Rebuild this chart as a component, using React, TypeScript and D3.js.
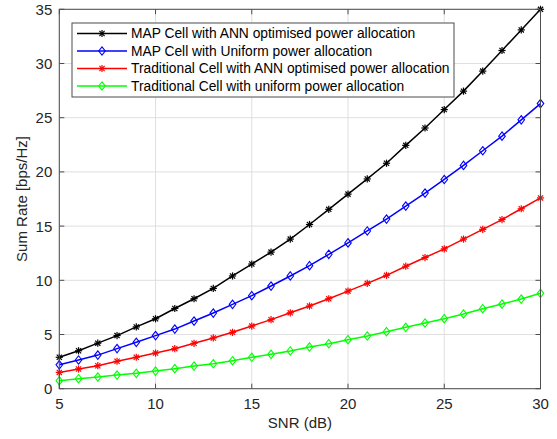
import React from "react";
import * as d3 from "d3";

const snr = [5,6,7,8,9,10,11,12,13,14,15,16,17,18,19,20,21,22,23,24,25,26,27,28,29,30];
const mapAnn = [2.9,3.5,4.2,4.9,5.7,6.45,7.4,8.3,9.25,10.4,11.5,12.6,13.8,15.15,16.55,17.95,19.35,20.8,22.45,24.05,25.75,27.45,29.3,31.2,33.1,35.0];
const mapUni = [2.2,2.65,3.1,3.7,4.28,4.9,5.5,6.24,6.98,7.78,8.58,9.47,10.4,11.35,12.4,13.45,14.55,15.65,16.85,18.05,19.3,20.6,21.95,23.3,24.8,26.3];
const tradAnn = [1.5,1.82,2.12,2.53,2.9,3.29,3.69,4.19,4.68,5.2,5.78,6.37,7.0,7.63,8.3,9.0,9.72,10.46,11.3,12.1,12.9,13.8,14.7,15.6,16.6,17.6];
const tradUni = [0.74,0.92,1.08,1.26,1.42,1.63,1.85,2.09,2.3,2.58,2.9,3.17,3.48,3.85,4.15,4.52,4.86,5.26,5.66,6.06,6.46,6.89,7.38,7.81,8.27,8.8];

const seriesNames = [
  "MAP Cell with ANN optimised power allocation",
  "MAP Cell with Uniform power allocation",
  "Traditional Cell with ANN optimised power allocation",
  "Traditional Cell with uniform power allocation",
];
const seriesColors = ["#000000", "#0000ff", "#ff0000", "#00ff00"];
const seriesMarkers = ["star", "diamond", "star", "diamond"];
const seriesValues = [mapAnn, mapUni, tradAnn, tradUni];

const xTicks = [5, 10, 15, 20, 25, 30];
const yTicks = [0, 5, 10, 15, 20, 25, 30, 35];

const W = 557, H = 439;
const L = 59.3, R = 540.5, T = 9.3, B = 388.7;

function Marker({ type, x, y, color }: { type: string; x: number; y: number; color: string }) {
  if (type === "star") {
    const r = 3.6;
    const d = r * 0.72;
    return (
      <g stroke={color} strokeWidth={1.2} fill="none">
        <line x1={x - r} y1={y} x2={x + r} y2={y} />
        <line x1={x} y1={y - r} x2={x} y2={y + r} />
        <line x1={x - d} y1={y - d} x2={x + d} y2={y + d} />
        <line x1={x - d} y1={y + d} x2={x + d} y2={y - d} />
      </g>
    );
  }
  const r = 4.2;
  return (
    <path
      d={`M${x},${y - r}L${x + r * 0.78},${y}L${x},${y + r}L${x - r * 0.78},${y}Z`}
      stroke={color}
      strokeWidth={1.1}
      fill="none"
    />
  );
}

export default function App() {
  const x = d3.scaleLinear().domain([5, 30]).range([L, R]);
  const y = d3.scaleLinear().domain([0, 35]).range([B, T]);
  const line = d3
    .line<number>()
    .x((_, i) => x(snr[i]))
    .y((v) => y(v));
  const axisColor = "#262626";
  const boxColor = "#4d4d4d";
  const font = "'Liberation Sans', Arial, sans-serif";

  const legX = 72, legY = 23, legW = 382, legH = 74;
  const rowYs = [33.5, 51, 68.5, 86];

  return (
    <svg width={W} height={H} style={{ position: "absolute", left: 0, top: 0 }} fontFamily={font}>
      <rect x={0} y={0} width={W} height={H} fill="#fff" />
      {/* grid */}
      {xTicks.map((t) => (
        <line key={"gx" + t} x1={x(t)} x2={x(t)} y1={T} y2={B} stroke="#dfdfdf" strokeWidth={1} />
      ))}
      {yTicks.map((t) => (
        <line key={"gy" + t} x1={L} x2={R} y1={y(t)} y2={y(t)} stroke="#dfdfdf" strokeWidth={1} />
      ))}
      {/* series */}
      {seriesValues.map((vals, si) => (
        <g key={"s" + si}>
          <path d={line(vals) || ""} fill="none" stroke={seriesColors[si]} strokeWidth={1.5} />
          {vals.map((v, i) => (
            <Marker key={i} type={seriesMarkers[si]} x={x(snr[i])} y={y(v)} color={seriesColors[si]} />
          ))}
        </g>
      ))}
      {/* axes box */}
      <rect x={L} y={T} width={R - L} height={B - T} fill="none" stroke={boxColor} strokeWidth={1} />
      {xTicks.map((t) => (
        <g key={"tx" + t}>
          <line x1={x(t)} x2={x(t)} y1={B} y2={B - 5} stroke={boxColor} />
          <line x1={x(t)} x2={x(t)} y1={T} y2={T + 5} stroke={boxColor} />
          <text x={x(t)} y={B + 20.5} textAnchor="middle" fontSize={15} fill={axisColor}>
            {t}
          </text>
        </g>
      ))}
      {yTicks.map((t) => (
        <g key={"ty" + t}>
          <line x1={L} x2={L + 5} y1={y(t)} y2={y(t)} stroke={boxColor} />
          <line x1={R} x2={R - 5} y1={y(t)} y2={y(t)} stroke={boxColor} />
          <text x={L - 7} y={y(t) + 5.5} textAnchor="end" fontSize={15} fill={axisColor}>
            {t}
          </text>
        </g>
      ))}
      <text x={(L + R) / 2} y={427.5} textAnchor="middle" fontSize={15} fill={axisColor}>
        SNR (dB)
      </text>
      <text
        transform={`translate(26.5,${(T + B) / 2}) rotate(-90)`}
        textAnchor="middle"
        fontSize={15}
        fill={axisColor}
      >
        Sum Rate [bps/Hz]
      </text>
      {/* legend */}
      <rect x={legX} y={legY} width={legW} height={legH} fill="#fff" stroke={boxColor} strokeWidth={1} />
      {seriesNames.map((n, i) => (
        <g key={"l" + i}>
          <line x1={77} x2={127} y1={rowYs[i]} y2={rowYs[i]} stroke={seriesColors[i]} strokeWidth={1.5} />
          <Marker type={seriesMarkers[i]} x={102} y={rowYs[i]} color={seriesColors[i]} />
          <text x={131} y={rowYs[i] + 4.8} fontSize={13.8} fill="#000">
            {n}
          </text>
        </g>
      ))}
    </svg>
  );
}
